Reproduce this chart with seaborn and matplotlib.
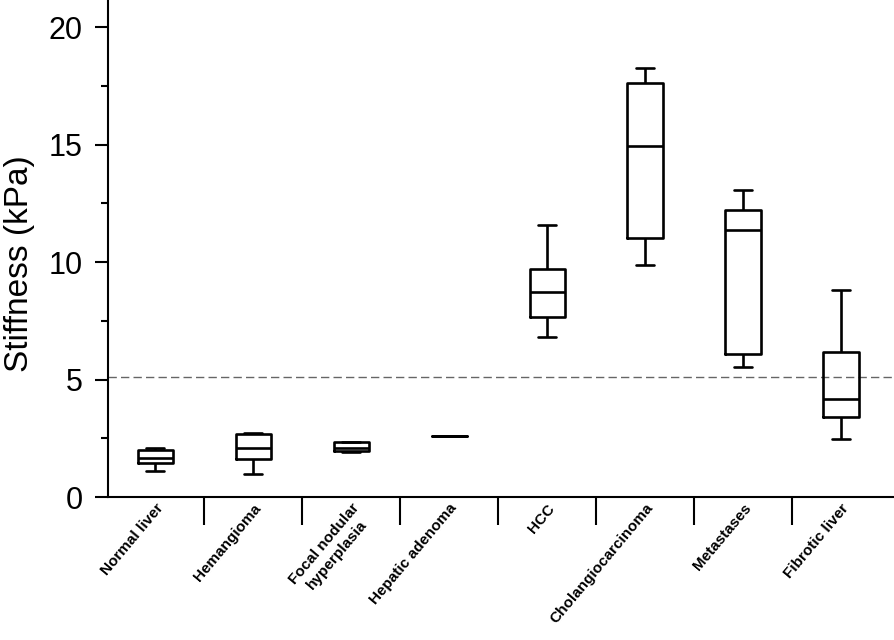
import numpy as np
import pandas as pd
import seaborn as sns
import matplotlib.pyplot as plt

# five-number summaries: low whisker, q1, median, q3, high whisker
groups = ["Normal liver", "Hemangioma", "Focal nodular\nhyperplasia", "Hepatic adenoma",
          "HCC", "Cholangiocarcinoma", "Metastases", "Fibrotic liver"]
whis_lo = [1.10, 0.98, 1.93, 2.60, 6.82, 9.87, 5.53, 2.48]
q1 = [1.43, 1.60, 1.95, 2.60, 7.66, 11.04, 6.09, 3.42]
median = [1.65, 2.07, 2.10, 2.60, 8.72, 14.95, 11.38, 4.17]
q3 = [2.00, 2.67, 2.33, 2.60, 9.69, 17.60, 12.20, 6.17]
whis_hi = [2.07, 2.71, 2.35, 2.60, 11.59, 18.26, 13.06, 8.82]
cutoff = 5.12

# five points per group give exactly these quartiles with linear percentiles
rows = []
for i, g in enumerate(groups):
    for v in [whis_lo[i], q1[i], median[i], q3[i], whis_hi[i]]:
        rows.append({"group": g, "stiffness": v})
df = pd.DataFrame(rows)

sns.set_style("ticks", {"axes.edgecolor": "black", "text.color": "black",
                        "xtick.color": "black", "ytick.color": "black",
                        "axes.labelcolor": "black"})
plt.rcParams['font.family'] = ['Liberation Sans', 'DejaVu Sans']

fig = plt.figure(figsize=(8.94, 6.4), dpi=100)
ax = fig.add_axes([0.121, 0.2234, 0.879, 0.7766])

lw = 1.9
line_kw = dict(color="black", linewidth=lw)
sns.boxplot(data=df, x="group", y="stiffness", order=groups, whis=(0, 100),
            width=0.36, fill=False, linecolor="black", linewidth=lw,
            showfliers=False, ax=ax,
            boxprops=line_kw, whiskerprops=line_kw,
            capprops=line_kw, medianprops=line_kw)

ax.axhline(cutoff, color="#666666", linestyle=(0, (6, 3)), linewidth=1.0, zorder=0)

ax.set_xlim(-0.48, 7.54)
ax.set_ylim(0, 21.15)
ax.set_yticks([0, 5, 10, 15, 20])
ax.set_yticks([2.5, 7.5, 12.5, 17.5], minor=True)
ax.tick_params(axis="y", which="major", length=9.5, width=1.5, labelsize=22, pad=9)
ax.tick_params(axis="y", which="minor", length=5, width=1.5)

ax.set_xticks(range(len(groups)))
ax.set_xticklabels(groups, rotation=50, ha="right", rotation_mode="anchor",
                   fontsize=11, fontweight="bold")
for lab in ax.get_xticklabels():
    lab.set_multialignment("center")
ax.set_xticks(np.arange(0.5, len(groups) - 1, 1.0), minor=True)
ax.tick_params(axis="x", which="major", length=0, pad=3)
ax.tick_params(axis="x", which="minor", length=20, width=1.5)

ax.set_xlabel("")
ax.set_ylabel("Stiffness (kPa)", fontsize=24)
ax.yaxis.set_label_coords(-0.093, 0.47)

sns.despine(ax=ax)
for side in ["left", "bottom"]:
    ax.spines[side].set_linewidth(1.5)

fig.savefig("out.png", dpi=100)
